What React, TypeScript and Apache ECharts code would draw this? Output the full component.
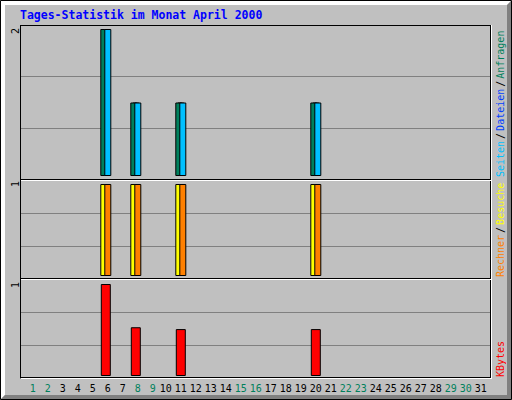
import React, { useEffect, useRef } from 'react'
import * as echarts from 'echarts'

// Webalizer daily statistics, April 2000
const TITLE = 'Tages-Statistik im Monat April 2000'
const DAYS = ['1', '2', '3', '4', '5', '6', '7', '8', '9', '10', '11', '12', '13', '14', '15', '16',
    '17', '18', '19', '20', '21', '22', '23', '24', '25', '26', '27', '28', '29', '30', '31']
const WEEKEND = ['1', '2', '8', '9', '15', '16', '22', '23', '29', '30']

const HITS = [0, 0, 0, 0, 0, 2, 0, 1, 0, 0, 1, 0, 0, 0, 0, 0, 0, 0, 0, 1, 0, 0, 0, 0, 0, 0, 0, 0, 0, 0, 0]
const FILES = [0, 0, 0, 0, 0, 2, 0, 1, 0, 0, 1, 0, 0, 0, 0, 0, 0, 0, 0, 1, 0, 0, 0, 0, 0, 0, 0, 0, 0, 0, 0]
const PAGES = [0, 0, 0, 0, 0, 2, 0, 1, 0, 0, 1, 0, 0, 0, 0, 0, 0, 0, 0, 1, 0, 0, 0, 0, 0, 0, 0, 0, 0, 0, 0]
const VISITS = [0, 0, 0, 0, 0, 1, 0, 1, 0, 0, 1, 0, 0, 0, 0, 0, 0, 0, 0, 1, 0, 0, 0, 0, 0, 0, 0, 0, 0, 0, 0]
const SITES = [0, 0, 0, 0, 0, 1, 0, 1, 0, 0, 1, 0, 0, 0, 0, 0, 0, 0, 0, 1, 0, 0, 0, 0, 0, 0, 0, 0, 0, 0, 0]
const KBYTES = [0, 0, 0, 0, 0, 1.0, 0, 0.53, 0, 0, 0.51, 0, 0, 0, 0, 0, 0, 0, 0, 0.51, 0, 0, 0, 0, 0, 0, 0, 0, 0, 0, 0]

const HIT_C = '#00805c'
const FILE_C = '#0040ff'
const PAGE_C = '#00c0ff'
const VISIT_C = '#ffff00'
const SITE_C = '#ff8000'
const KB_C = '#ff0000'

const MONO = '"DejaVu Sans Mono", monospace'

// frame boxes (gray grid lines) and plot areas (bars)
const FRAMES = [{ top: 25, h: 155 }, { top: 180, h: 99 }, { top: 279, h: 99 }]
const PLOTS = [{ top: 29, h: 147 }, { top: 184, h: 92 }, { top: 284, h: 92 }]
const PLOT_L = 23.3
const PLOT_W = 465

const nz = (a: number[]) => a.map(v => (v > 0 ? v : null))

const App: React.FC = () => {
    const chartRef = useRef<HTMLDivElement | null>(null)

    useEffect(() => {
        document.body.style.margin = '0'
        if (!chartRef.current) return
        const chart = echarts.init(chartRef.current, undefined, { renderer: 'svg' })

        const max1 = Math.max(...HITS, ...FILES, ...PAGES)
        const max2 = Math.max(...VISITS, ...SITES)
        const max3 = Math.max(...KBYTES)
        const maxes = [max1, max2, max3]

        const bar = (name: string, data: number[], color: string, axis: number, extra: any) => ({
            name,
            type: 'bar',
            xAxisIndex: axis,
            yAxisIndex: axis,
            data: nz(data),
            itemStyle: { color, borderColor: '#000', borderWidth: 1 },
            silent: true,
            ...extra,
        })

        const dayLabel = (v: string) => {
            const w = WEEKEND.includes(v) ? 'w' : 'd'
            const n = v.length === 1 ? '1' : '2'
            return `{${w}${n}|${v}}`
        }
        const lab = { fontFamily: MONO, fontSize: 10 }

        const frameLines: any[] = []
        const black = { stroke: '#000', lineWidth: 1 }
        const white = { stroke: '#fff', lineWidth: 1 }
        // top and sides
        frameLines.push({ type: 'line', z: 100, shape: { x1: 20, y1: 25.5, x2: 491, y2: 25.5 }, style: black })
        frameLines.push({ type: 'line', z: 100, shape: { x1: 20.5, y1: 25, x2: 20.5, y2: 378 }, style: black })
        frameLines.push({ type: 'line', z: 100, shape: { x1: 490.5, y1: 25, x2: 490.5, y2: 378 }, style: black })
        frameLines.push({ type: 'line', z: 100, shape: { x1: 491.5, y1: 25, x2: 491.5, y2: 379 }, style: white })
        ;[179.5, 278.5, 377.5].forEach(y => {
            frameLines.push({ type: 'line', z: 100, shape: { x1: 20, y1: y, x2: 491, y2: y }, style: black })
            frameLines.push({ type: 'line', z: 100, shape: { x1: 21, y1: y + 1, x2: 492, y2: y + 1 }, style: white })
        })

        const sideText = (text: string, y: number, rich: any) => ({
            type: 'text', x: 500, y, rotation: Math.PI / 2, z: 50,
            style: { text, rich, fontFamily: MONO, fontSize: 10, align: 'left', verticalAlign: 'middle' },
        })
        const sl = { width: 10, align: 'center', fill: '#000', fontFamily: MONO, fontSize: 10 }
        const rc = (color: string) => ({ fill: color, fontFamily: MONO, fontSize: 10 })

        const options: any = {
            animation: false,
            backgroundColor: '#c0c0c0',
            grid: [
                ...FRAMES.map(f => ({ left: 20, top: f.top, width: 471, height: f.h })),
                ...PLOTS.map(p => ({ left: PLOT_L, top: p.top, width: PLOT_W, height: p.h })),
            ],
            xAxis: [
                ...FRAMES.map((_, i) => ({ type: 'value', gridIndex: i, show: false, min: 0, max: 1 })),
                ...PLOTS.map((_, i) => ({
                    type: 'category',
                    gridIndex: 3 + i,
                    data: DAYS,
                    axisLine: { show: false },
                    axisTick: { show: false },
                    splitLine: { show: false },
                    axisLabel: {
                        show: i === 2,
                        interval: 0,
                        margin: 7,
                        formatter: dayLabel,
                        ...lab,
                        rich: {
                            d1: { ...lab, color: '#000', padding: [0, 0, 0, 4] },
                            d2: { ...lab, color: '#000' },
                            w1: { ...lab, color: HIT_C, padding: [0, 0, 0, 4] },
                            w2: { ...lab, color: HIT_C },
                        },
                    },
                })),
            ],
            yAxis: [
                ...FRAMES.map((_, i) => ({
                    type: 'value', gridIndex: i, min: 0, max: 3, interval: 1,
                    axisLine: { show: false }, axisTick: { show: false }, axisLabel: { show: false },
                    splitLine: { show: true, lineStyle: { color: '#808080', width: 1 } },
                })),
                ...PLOTS.map((_, i) => ({
                    type: 'value', gridIndex: 3 + i, min: 0, max: maxes[i], show: false,
                })),
            ],
            series: [
                bar('Anfragen', HITS, HIT_C, 3, { barWidth: 7, barGap: '-71.43%', z: 3 }),
                bar('Dateien', FILES, FILE_C, 3, { barWidth: 7, barGap: '-71.43%', z: 2 }),
                bar('Seiten', PAGES, PAGE_C, 3, { barWidth: 7, barGap: '-71.43%', z: 4 }),
                bar('Besuche', VISITS, VISIT_C, 4, { barWidth: 7, barGap: '-42.86%', z: 3 }),
                bar('Rechner', SITES, SITE_C, 4, { barWidth: 7, barGap: '-42.86%', z: 4 }),
                bar('KBytes', KBYTES, KB_C, 5, { barWidth: 10, z: 3 }),
            ],
            graphic: [
                // 3D outer border
                { type: 'polygon', z: 1, shape: { points: [[1, 1], [511, 1], [507, 5], [5, 5], [5, 395], [1, 399]] }, style: { fill: '#fff' } },
                { type: 'polygon', z: 1, shape: { points: [[511, 1], [511, 399], [1, 399], [5, 395], [507, 395], [507, 5]] }, style: { fill: '#808080' } },
                { type: 'rect', z: 2, shape: { x: 0.5, y: 0.5, width: 511, height: 399 }, style: { fill: 'none', stroke: '#000', lineWidth: 1 } },
                {
                    type: 'text', x: 20, y: 15, z: 50,
                    style: { text: TITLE, fill: '#0000ff', fontFamily: MONO, fontSize: 11.5, fontWeight: 'bold', verticalAlign: 'middle' },
                },
                ...[31, 184, 285].map((y, i) => ({
                    type: 'text', x: 15, y, rotation: Math.PI / 2, z: 50,
                    style: { text: String(Math.round(maxes[i])), fill: '#000', fontFamily: MONO, fontSize: 10, align: 'center', verticalAlign: 'middle' },
                })),
                sideText('{p|Seiten}{s|/}{f|Dateien}{s|/}{h|Anfragen}', 177, {
                    p: rc(PAGE_C), s: sl, f: rc(FILE_C), h: rc(HIT_C),
                }),
                sideText('{r|Rechner}{s|/}{v|Besuche}', 277, { r: rc(SITE_C), s: sl, v: rc(VISIT_C) }),
                sideText('{k|KBytes}', 377, { k: rc(KB_C) }),
                ...frameLines,
            ],
        }

        chart.setOption(options)
        return () => {
            chart.dispose()
        }
    }, [])

    return <div ref={chartRef} style={{ width: '512px', height: '400px' }} />
}

export default App
